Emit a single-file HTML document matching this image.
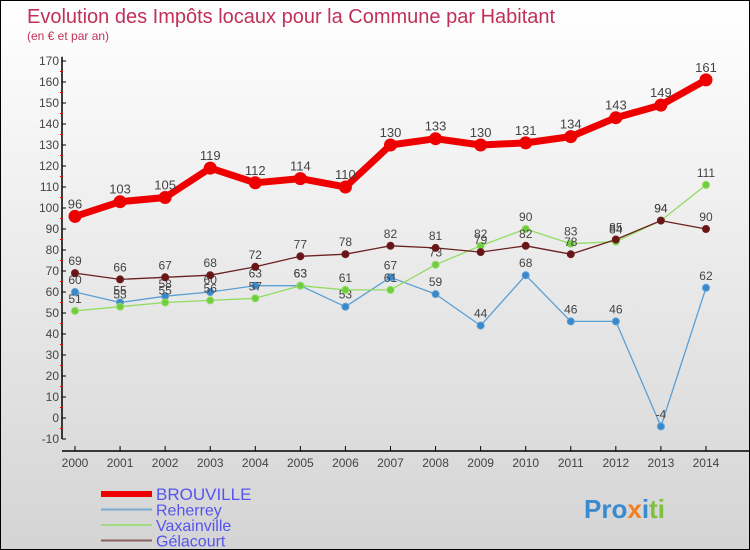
<!DOCTYPE html>
<html><head><meta charset="utf-8"><style>
body{margin:0}
#c{width:748px;height:548px;border:1px solid #000;background:linear-gradient(#fff,#d4d4d4);position:relative;overflow:hidden;font-family:"Liberation Sans",sans-serif}
</style></head><body>
<div id="c">
<svg id="s" width="748" height="548" style="position:absolute;left:0;top:0">
<text x="26" y="22" font-size="20" fill="#c0305a">Evolution des Impôts locaux pour la Commune par Habitant</text>
<text x="26" y="39" font-size="12" fill="#c0305a">(en € et par an)</text>
<g id="axes"></g><g id="series"></g><g id="legend"></g>
<text x="583" y="517" font-size="26" font-weight="bold" fill="#f08020"><tspan fill="#3a8ad0">Pro</tspan><tspan fill="#f08020">x</tspan><tspan fill="#3a8ad0">i</tspan><tspan fill="#80c040">ti</tspan></text>
</svg>
</div>
<script>
const years=[2000,2001,2002,2003,2004,2005,2006,2007,2008,2009,2010,2011,2012,2013,2014];
const brouville=[96,103,105,119,112,114,110,130,133,130,131,134,143,149,161];
const reherrey=[60,55,58,60,63,63,53,67,59,44,68,46,46,-4,62];
const vaxainville=[51,53,55,56,57,63,61,61,73,82,90,83,84,94,111];
const gelacourt=[69,66,67,68,72,77,78,82,81,79,82,78,85,94,90];
const yTicks=[-10,0,10,20,30,40,50,60,70,80,90,100,110,120,130,140,150,160,170];
const NS='http://www.w3.org/2000/svg';
const x=i=>74+i*45.07;
const y=v=>417-v*2.1;
function mk(tag,attrs,parent){const e=document.createElementNS(NS,tag);for(const k in attrs)e.setAttribute(k,attrs[k]);parent.appendChild(e);return e;}
const ax=document.getElementById('axes');
let l=mk('line',{x1:61,y1:y(172),x2:61,y2:y(-10),stroke:'#000','stroke-width':1.5},ax);


yTicks.forEach(v=>{
 mk('line',{x1:61,y1:y(v),x2:65,y2:y(v),stroke:'#000'},ax);
 if(v<170)mk('line',{x1:59,y1:y(v+5),x2:62,y2:y(v+5),stroke:'#e00'},ax);
 const t=mk('text',{x:58,y:y(v)+4,'font-size':12,fill:'#444','text-anchor':'end'},ax);
 t.textContent=v;
 
 
});
l=mk('line',{x1:61,y1:450,x2:748,y2:450,stroke:'#000','stroke-width':1.5},ax);


years.forEach((yr,i)=>{
 mk('line',{x1:x(i),y1:445,x2:x(i),y2:450,stroke:'#000'},ax);
 const t=mk('text',{x:x(i),y:466,'font-size':12,fill:'#444','text-anchor':'middle'},ax);
 t.textContent=yr;
 
 
});
const sg=document.getElementById('series');
function series(data,color,w,r,fill,name,fs){
 const g=mk('g',{},sg);
 
 
 const p=mk('polyline',{points:data.map((v,i)=>x(i)+','+y(v)).join(' '),fill:'none',stroke:color,'stroke-width':w,'stroke-linejoin':'round'},g);
 
 
 data.forEach((v,i)=>{
  const c=mk('circle',{cx:x(i),cy:y(v),r:r,fill:fill,stroke:color,'stroke-width':1},g);
  
  
  const t=mk('text',{x:x(i),y:y(v)-8,'font-size':fs,fill:'#444','text-anchor':'middle'},g);
  t.textContent=v;
  
  
 });
}
series(reherrey,'#5a9fd4',1.3,3.5,'#3a88cc','reherrey',12);
series(vaxainville,'#90dd60',1.3,3.5,'#70cc40','vaxainville',12);
series(gelacourt,'#6a2020',1.3,3.5,'#6a1515','gelacourt',12);
series(brouville,'#ee0000',7,6,'#ee0000','brouville',13);
const lg=document.getElementById('legend');
[['BROUVILLE','#ee0000',6],['Reherrey','#7aaad0',2],['Vaxainville','#a0dd80',2],['Gélacourt','#8a6060',2]].forEach((d,i)=>{
 const yy=493+i*15.5;
 const ln=mk('line',{x1:100,y1:yy,x2:151,y2:yy,stroke:d[1],'stroke-width':d[2]},lg);
 
 
 const t=mk('text',{x:155,y:yy+6,'font-size':i==0?17:16,fill:'#5555ee'},lg);
 t.textContent=d[0];
 
 
});
</script>
</body></html>
